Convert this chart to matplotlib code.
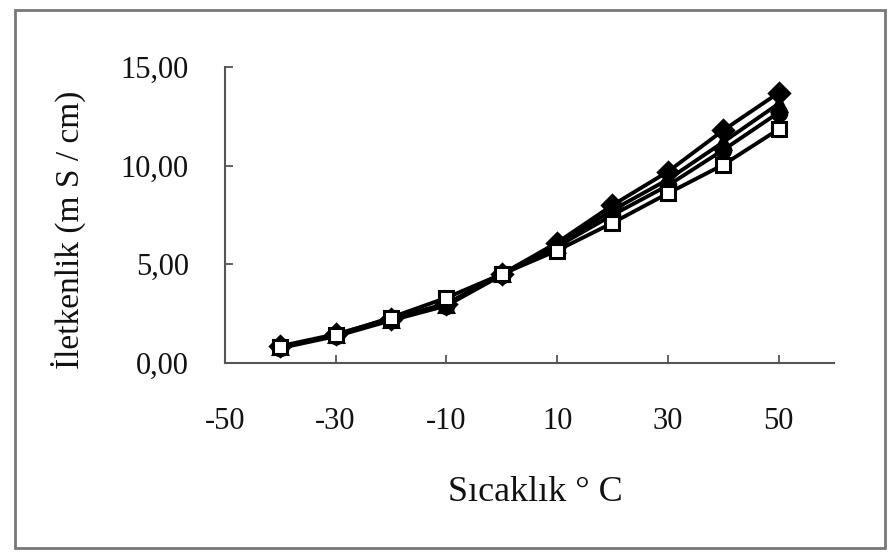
import matplotlib
matplotlib.use("Agg")
import matplotlib.pyplot as plt
from matplotlib.patches import Rectangle
from matplotlib.ticker import FuncFormatter, MultipleLocator

# temperature (°C) and conductivity (mS/cm)
temps = [-40, -30, -20, -10, 0, 10, 20, 30, 40, 50]
cond_diamond = [0.85, 1.45, 2.25, 3.0, 4.5, 6.1, 8.0, 9.7, 11.8, 13.7]
cond_triangle = [0.8, 1.4, 2.2, 2.95, 4.5, 6.0, 7.75, 9.3, 11.2, 13.15]
cond_circle = [0.75, 1.35, 2.15, 2.9, 4.45, 5.9, 7.5, 9.0, 10.8, 12.7]
cond_square = [0.8, 1.4, 2.3, 3.3, 4.5, 5.7, 7.1, 8.6, 10.05, 11.85]

x_ticks = [-50, -30, -10, 10, 30, 50]

plt.rcParams["font.family"] = ["Liberation Serif", "DejaVu Serif"]
plt.rcParams["axes.unicode_minus"] = False

fig = plt.figure(figsize=(8.92, 5.6), dpi=100)
ax = fig.add_axes([0.252, 0.352, 0.683, 0.528])

series = [
    (cond_diamond, "D", "black"),
    (cond_triangle, "^", "black"),
    (cond_circle, "o", "black"),
    (cond_square, "s", "white"),
]
for vals, marker, face in series:
    ax.plot(temps, vals, color="black", linewidth=2.8, marker=marker,
            markersize=10.5, markerfacecolor=face, markeredgecolor="black",
            markeredgewidth=2.2)

ax.set_xlim(-50, 60)
ax.set_ylim(0, 15)
ax.set_xticks(x_ticks)
ax.yaxis.set_major_locator(MultipleLocator(5))
ax.yaxis.set_major_formatter(FuncFormatter(lambda v, _: f"{v:.2f}".replace(".", ",")))

for side in ("top", "right"):
    ax.spines[side].set_visible(False)
for side in ("left", "bottom"):
    ax.spines[side].set_color("#555555")
    ax.spines[side].set_linewidth(1.5)

ax.tick_params(axis="both", direction="in", length=6, width=1.3, color="#555555",
               labelsize=22, labelcolor="#111111")
ax.tick_params(axis="x", pad=32)
ax.tick_params(axis="y", pad=26)

fig.text(0.6, 0.121, "Sıcaklık ° C", fontsize=26, ha="center", va="center", color="#111111")
fig.text(0.077, 0.59, "İletkenlik (m S / cm)", fontsize=24, ha="center", va="center",
         rotation=90, color="#111111")

# grey frame around the whole chart
fig.patches.append(Rectangle((15 / 892, 12 / 560), 870 / 892, 538 / 560,
                             transform=fig.transFigure, fill=False,
                             edgecolor="#777777", linewidth=2.0))

fig.savefig("out.png", dpi=100, facecolor="white")
